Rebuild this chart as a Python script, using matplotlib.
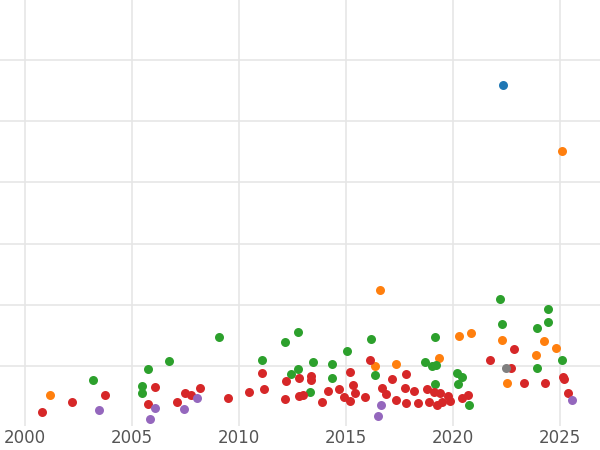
import matplotlib
matplotlib.use("Agg")
import matplotlib.pyplot as plt

# values (x = year, y = unitless value)
blue_x = [2022.34]
blue_y = [5.59]

orange_x = [2001.17, 2025.09, 2016.59, 2016.36, 2017.34, 2019.35, 2020.28, 2020.84,
            2022.29, 2022.52, 2023.88, 2024.25, 2024.81]
orange_y = [0.54, 4.51, 2.25, 1.01, 1.04, 1.14, 1.50, 1.55, 1.43, 0.73, 1.19, 1.42, 1.30]

green_x = [2003.18, 2005.47, 2005.47, 2005.75, 2006.73, 2009.07, 2011.07, 2012.15,
           2012.43, 2012.76, 2012.76, 2013.46, 2013.32, 2014.35, 2014.35, 2015.05,
           2016.17, 2016.36, 2018.69, 2019.02, 2019.16, 2019.21, 2019.16, 2020.19,
           2020.42, 2020.23, 2020.75, 2022.20, 2022.29, 2023.93, 2024.44, 2024.44,
           2025.09, 2023.93]
green_y = [0.78, 0.68, 0.57, 0.96, 1.09, 1.48, 1.11, 1.40, 0.88, 1.56, 0.96, 1.07,
           0.59, 1.04, 0.81, 1.25, 1.45, 0.86, 1.07, 1.01, 0.72, 1.03, 1.48, 0.90,
           0.83, 0.72, 0.37, 2.10, 1.69, 1.63, 1.94, 1.73, 1.11, 0.98]

red_x = [2000.79, 2002.20, 2003.74, 2005.75, 2006.07, 2007.10, 2007.48, 2007.76,
         2008.18, 2009.49, 2010.47, 2011.07, 2011.17, 2012.20, 2012.15, 2012.80,
         2012.80, 2012.99, 2013.36, 2013.36, 2013.88, 2014.16, 2014.67, 2014.91,
         2015.19, 2015.19, 2015.33, 2015.42, 2015.89, 2016.12, 2016.68, 2016.87,
         2017.15, 2017.34, 2017.80, 2017.76, 2017.80, 2018.18, 2018.36, 2018.79,
         2018.88, 2019.11, 2019.39, 2019.25, 2019.49, 2019.77, 2019.86, 2020.42,
         2020.70, 2021.73, 2022.71, 2022.85, 2023.32, 2024.30, 2025.14, 2025.19,
         2025.37]
red_y = [0.26, 0.42, 0.54, 0.39, 0.67, 0.42, 0.57, 0.54, 0.65, 0.49, 0.59, 0.90,
         0.64, 0.77, 0.47, 0.81, 0.52, 0.54, 0.78, 0.85, 0.42, 0.60, 0.64, 0.50,
         0.91, 0.44, 0.70, 0.57, 0.50, 1.11, 0.65, 0.55, 0.80, 0.46, 0.88, 0.65,
         0.41, 0.60, 0.41, 0.64, 0.42, 0.59, 0.57, 0.37, 0.42, 0.52, 0.44, 0.49,
         0.54, 1.11, 0.98, 1.29, 0.73, 0.73, 0.83, 0.80, 0.57]

purple_x = [2003.46, 2005.84, 2006.07, 2007.43, 2008.04, 2016.50, 2016.64, 2025.56]
purple_y = [0.29, 0.15, 0.33, 0.31, 0.49, 0.20, 0.37, 0.46]

gray_x = [2022.48]
gray_y = [0.98]

fig = plt.figure(figsize=(6, 4.5), dpi=100)
ax = fig.add_axes([0, 24 / 450, 1, 426 / 450])

series = [
    (blue_x, blue_y, "#1f77b4"),
    (orange_x, orange_y, "#ff7f0e"),
    (green_x, green_y, "#2ca02c"),
    (red_x, red_y, "#d62728"),
    (purple_x, purple_y, "#9467bd"),
    (gray_x, gray_y, "#7f7f7f"),
]
for xs, ys, c in series:
    ax.scatter(xs, ys, s=42, color=c, linewidths=0, zorder=3, clip_on=False)

ax.set_xlim(1998.83, 2026.87)
ax.set_ylim(0.03, 6.97)
ax.set_xticks([2000, 2005, 2010, 2015, 2020, 2025])
ax.set_yticks(range(1, 7))
ax.set_yticklabels([])
ax.grid(True, color="#e6e6e6", linewidth=1.2, zorder=0)
ax.set_axisbelow(True)
for s in ax.spines.values():
    s.set_visible(False)
ax.tick_params(length=0, labelsize=12, labelcolor="#555555", pad=2)

fig.savefig("out.png", dpi=100)
